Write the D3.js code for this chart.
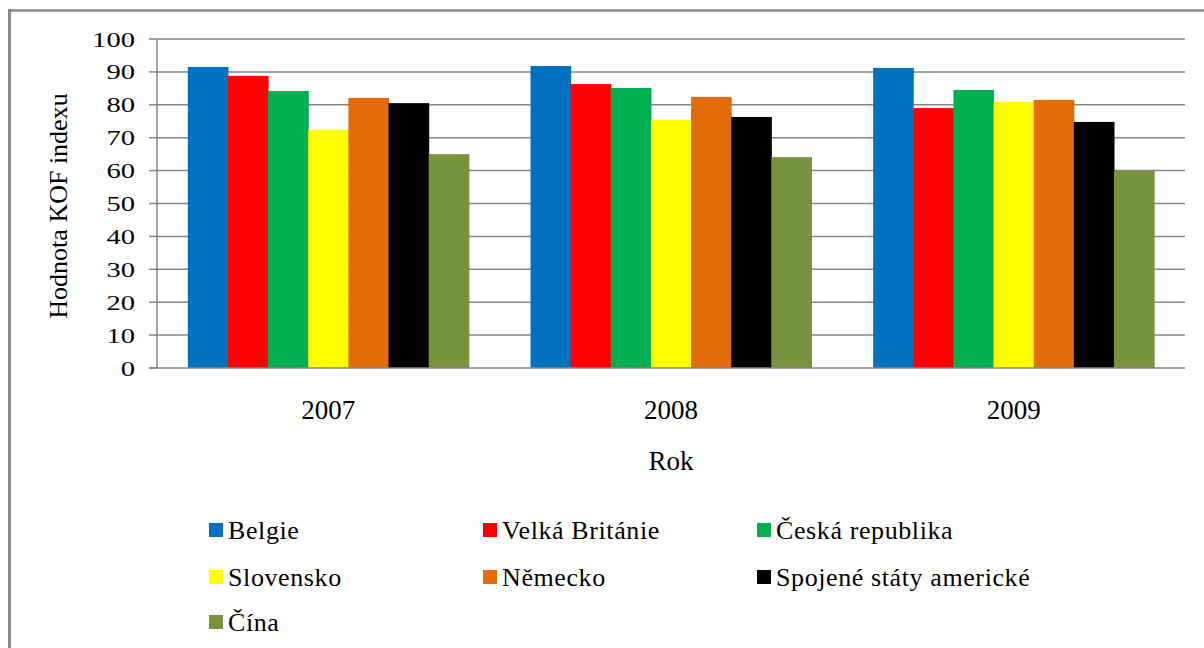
<!DOCTYPE html>
<html><head><meta charset="utf-8">
<script src="https://cdn.jsdelivr.net/npm/d3@7/dist/d3.min.js"></script>
</head>
<body style="margin:0;padding:0;background:#fff;">
<svg id="chart" width="1204" height="648"></svg>
<script>
const years = ["2007", "2008", "2009"];
const countries = ["Belgie", "Velká Británie", "Česká republika", "Slovensko", "Německo", "Spojené státy americké", "Čína"];
const colors = ["#0070C0", "#FF0000", "#00B050", "#FFFF00", "#E36C09", "#000000", "#77933C"];
const belgie = [91.5, 91.8, 91.2];
const velkaBritanie = [88.8, 86.3, 79.0];
const ceskaRepublika = [84.2, 85.1, 84.5];
const slovensko = [72.4, 75.4, 80.9];
const nemecko = [82.1, 82.4, 81.5];
const usa = [80.5, 76.3, 74.8];
const cina = [65.0, 64.1, 59.9];
const yTicks = [0, 10, 20, 30, 40, 50, 60, 70, 80, 90, 100];
const series = [belgie, velkaBritanie, ceskaRepublika, slovensko, nemecko, usa, cina];

const SERIF = "Tinos, Liberation Serif, Times New Roman, serif";
const svg = d3.select("#chart");
// outer frame
svg.append("line").attr("x1", 9.5).attr("x2", 9.5).attr("y1", 9).attr("y2", 648).attr("stroke", "#8a8a8a").attr("stroke-width", 3);
svg.append("line").attr("x1", 8).attr("x2", 1204).attr("y1", 10.5).attr("y2", 10.5).attr("stroke", "#8a8a8a").attr("stroke-width", 2.5);

const pLeft = 157, pRight = 1185, pTop = 39, pBottom = 368;
const x0 = d3.scaleBand().domain(years).range([pLeft, pRight]).paddingInner(0.18).paddingOuter(0.09);
const x1 = d3.scaleBand().domain(countries).range([0, x0.bandwidth()]);
const y = d3.scaleLinear().domain([0, 100]).range([pBottom, pTop]);

// gridlines
svg.append("g").selectAll("line").data(yTicks.filter(d => d > 0)).join("line")
  .attr("x1", pLeft).attr("x2", pRight).attr("y1", d => y(d)).attr("y2", d => y(d))
  .attr("stroke", "#868686").attr("stroke-width", 1.5);

// bars
const rows = years.map((yr, i) => ({year: yr, vals: countries.map((c, j) => ({c, j, v: series[j][i]}))}));
svg.append("g").selectAll("g").data(rows).join("g")
  .attr("transform", d => `translate(${x0(d.year)},0)`)
  .selectAll("rect").data(d => d.vals).join("rect")
  .attr("x", d => x1(d.c)).attr("width", x1.bandwidth() + 0.5)
  .attr("y", d => y(d.v)).attr("height", d => y(0) - y(d.v))
  .attr("fill", d => colors[d.j]);

// y axis lines
svg.append("line").attr("x1", pLeft).attr("x2", pLeft).attr("y1", pTop).attr("y2", pBottom)
  .attr("stroke", "#868686").attr("stroke-width", 1.5);
svg.append("g").selectAll("line").data(yTicks).join("line")
  .attr("x1", pLeft - 8).attr("x2", pLeft).attr("y1", d => y(d)).attr("y2", d => y(d))
  .attr("stroke", "#868686").attr("stroke-width", 1.5);
// x axis line
svg.append("line").attr("x1", pLeft - 8).attr("x2", pRight).attr("y1", pBottom).attr("y2", pBottom)
  .attr("stroke", "#868686").attr("stroke-width", 1.5);

// y tick labels
svg.selectAll("text.ytick").data(yTicks).join("text").attr("class", "ytick")
  .attr("transform", d => `translate(${pLeft - 22},${y(d) + 7.5}) scale(1.3,1)`)
  .attr("text-anchor", "end").attr("font-size", 22).attr("font-family", SERIF)
  .attr("fill", "#000").text(d => String(d));

// x tick labels
svg.selectAll("text.xtick").data(years).join("text").attr("class", "xtick")
  .attr("x", d => x0(d) + x0.bandwidth() / 2).attr("y", pBottom + 51)
  .attr("text-anchor", "middle").attr("font-size", 27).attr("font-family", SERIF)
  .attr("fill", "#000").text(d => d);

// axis titles
svg.selectAll("text.ytitle").data(["Hodnota KOF indexu"]).join("text").attr("class", "ytitle")
  .attr("transform", `translate(67,206) rotate(-90)`).attr("text-anchor", "middle")
  .attr("font-size", 26).attr("font-family", SERIF).attr("fill", "#000").text(d => d);
svg.selectAll("text.xtitle").data(["Rok"]).join("text").attr("class", "xtitle")
  .attr("x", (pLeft + pRight) / 2).attr("y", 470).attr("text-anchor", "middle")
  .attr("font-size", 27).attr("font-family", SERIF).attr("fill", "#000").text(d => d);

// legend
const legX = [209, 483, 757], legY = [530, 577, 622];
svg.selectAll("rect.leg").data(countries).join("rect").attr("class", "leg")
  .attr("x", (d, i) => legX[i % 3]).attr("y", (d, i) => legY[Math.floor(i / 3)] - 7)
  .attr("width", 14).attr("height", 14).attr("fill", (d, i) => colors[i]);
svg.selectAll("text.leg").data(countries).join("text").attr("class", "leg")
  .attr("x", (d, i) => legX[i % 3] + 19).attr("y", (d, i) => legY[Math.floor(i / 3)] + 9)
  .attr("font-size", 26).attr("letter-spacing", 0.6).attr("font-family", SERIF)
  .attr("fill", "#000").text(d => d);
</script>
</body></html>
